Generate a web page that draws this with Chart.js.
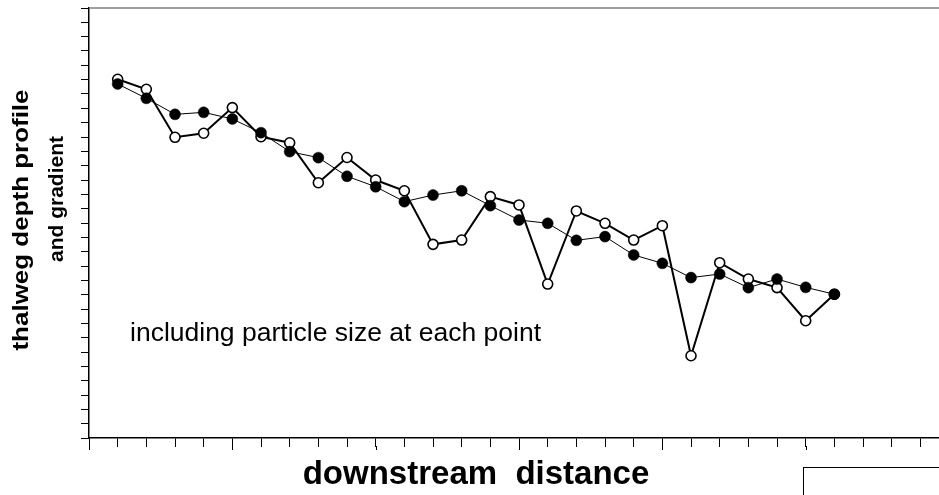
<!DOCTYPE html>
<html>
<head>
<meta charset="utf-8">
<script src="https://cdn.jsdelivr.net/npm/chart.js@4"></script>
<style>
  html, body { margin: 0; padding: 0; background: #fff; overflow: hidden; }
  #wrap { width: 939px; height: 495px; position: relative; }
</style>
</head>
<body>
<div id="wrap"><canvas id="profile"></canvas></div>
<script>
// station number along the stream (one per surveyed point)
const distance = [1, 2, 3, 4, 5, 6, 7, 8, 9, 10, 11, 12, 13, 14, 15, 16, 17, 18, 19, 20, 21, 22, 23, 24, 25, 26];

// filled circles
const depthFilled = [24.70, 23.70, 22.58, 22.72, 22.26, 21.30, 19.98, 19.56, 18.26, 17.53, 16.49, 16.95, 17.25,
                     16.21, 15.21, 14.98, 13.79, 14.05, 12.77, 12.19, 11.19, 11.44, 10.49, 11.09, 10.51, 10.03];
// open circles
const depthOpen = [25.03, 24.33, 20.98, 21.26, 23.05, 21.02, 20.60, 17.81, 19.57, 18.00, 17.25, 13.51, 13.81,
                   16.84, 16.26, 10.74, 15.84, 14.98, 13.81, 14.81, 5.74, 12.23, 11.09, 10.49, 8.18, 10.03];

const yTitle = ["thalweg depth profile", "and gradient"];
const xTitle = "downstream  distance";
const note = "including particle size at each point";

const FONT = '"Liberation Sans", Arial, Helvetica, sans-serif';

const extras = {
    id: 'extras',
    afterDraw(chart) {
        const ctx = chart.ctx;
        const a = chart.chartArea;
        const xs = chart.scales.x;
        ctx.save();

        // grey frame line along the top
        ctx.strokeStyle = '#7f7f7f';
        ctx.lineWidth = 1.5;
        ctx.beginPath();
        ctx.moveTo(a.left, a.top);
        ctx.lineTo(a.right, a.top);
        ctx.stroke();

        // every fifth x tick is a bit longer
        ctx.strokeStyle = '#000';
        ctx.lineWidth = 1;
        xs.ticks.forEach(t => {
            if (t.value % 5 === 0) {
                const px = Math.round(xs.getPixelForValue(t.value)) + 0.5;
                ctx.beginPath();
                ctx.moveTo(px, a.bottom + 8);
                ctx.lineTo(px, a.bottom + 12);
                ctx.stroke();
            }
        });

        // empty legend box cut off at the corner
        ctx.strokeRect(803.5, 467.5, 200, 100);

        ctx.fillStyle = '#000';
        ctx.font = '26.5px ' + FONT;
        ctx.textAlign = 'left';
        ctx.textBaseline = 'alphabetic';
        ctx.fillText(note, 130, 341);

        ctx.font = 'bold 33px ' + FONT;
        ctx.textAlign = 'center';
        ctx.fillText(xTitle, 476, 484);

        ctx.textBaseline = 'middle';
        ctx.save();
        ctx.font = 'bold 22px ' + FONT;
        ctx.translate(22, 220);
        ctx.rotate(-Math.PI / 2);
        ctx.scale(1.18, 1);
        ctx.fillText(yTitle[0], 0, 0);
        ctx.restore();
        ctx.save();
        ctx.font = 'bold 21px ' + FONT;
        ctx.translate(57, 199);
        ctx.rotate(-Math.PI / 2);
        ctx.fillText(yTitle[1], 0, 0);
        ctx.restore();

        ctx.restore();
    }
};

const ctx = document.querySelector('#profile').getContext('2d');

new Chart(ctx, {
    type: 'line',
    data: {
        datasets: [
            {
                data: distance.map((d, i) => ({ x: d, y: depthFilled[i] })),
                borderColor: '#000',
                borderWidth: 1,
                pointRadius: 5.5,
                pointBackgroundColor: '#000',
                pointBorderColor: '#000',
                pointBorderWidth: 0.5,
                tension: 0
            },
            {
                data: distance.map((d, i) => ({ x: d, y: depthOpen[i] })),
                borderColor: '#000',
                borderWidth: 2,
                pointRadius: 5,
                pointBackgroundColor: '#fff',
                pointBorderColor: '#000',
                pointBorderWidth: 1.6,
                tension: 0
            }
        ]
    },
    options: {
        responsive: true,
        maintainAspectRatio: false,
        animation: false,
        events: [],
        layout: { autoPadding: false, padding: { top: 8, left: 0, right: 0, bottom: 0 } },
        plugins: {
            legend: { display: false },
            tooltip: { enabled: false }
        },
        scales: {
            x: {
                type: 'linear',
                min: 0,
                max: 29.65,
                border: { color: '#000', width: 1.5 },
                grid: { drawOnChartArea: false, tickLength: 9, tickColor: '#000', tickWidth: 1 },
                ticks: { stepSize: 1, display: false, includeBounds: false },
                afterFit(s) { s.height = 57; }
            },
            y: {
                type: 'linear',
                min: 0,
                max: 30,
                border: { color: '#000', width: 1.5 },
                grid: { drawOnChartArea: false, tickLength: 8, tickColor: '#000', tickWidth: 1 },
                ticks: { stepSize: 1, display: false },
                afterFit(s) { s.width = 89; }
            }
        }
    },
    plugins: [extras]
});
</script>
</body>
</html>
